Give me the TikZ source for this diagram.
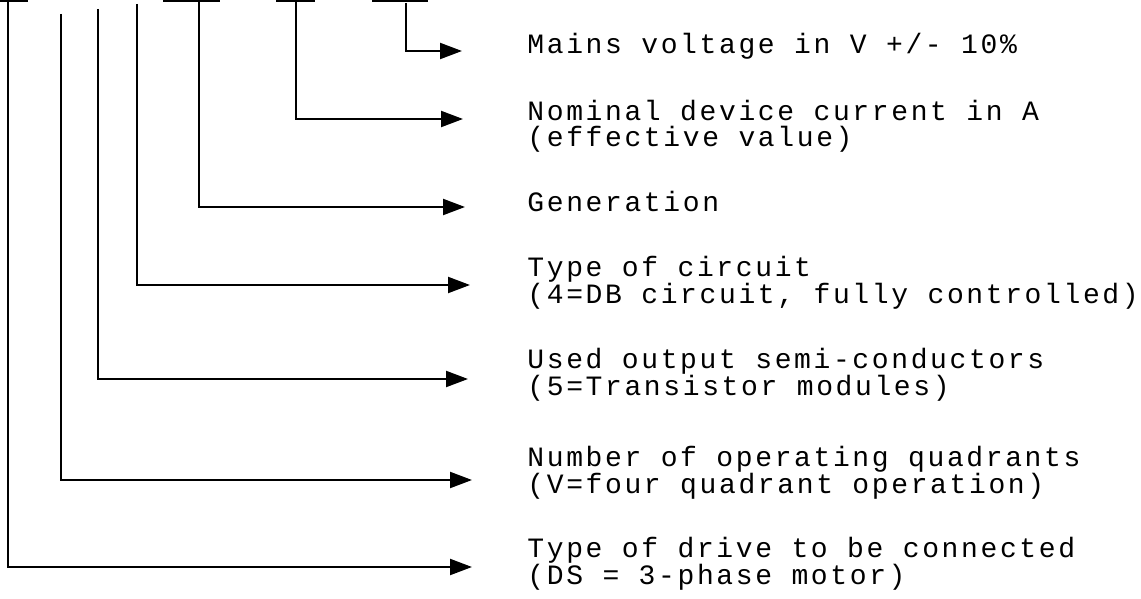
\documentclass[tikz,border=0pt]{standalone}
\usepackage{fontspec}
\newfontfamily\labelfont[LetterSpace=9.4]{Liberation Mono}
\usetikzlibrary{arrows.meta}
\begin{document}
\begin{tikzpicture}[x=0.5pt,y=-0.5pt,
  lead/.style={line width=1.1pt,line join=miter},
  tip/.style={lead,-{Triangle[length=11pt,width=8pt]}},
  lbl/.style={anchor=base west,inner sep=0pt,font=\labelfont\fontsize{14}{13}\selectfont},
  cut/.style={line width=1pt}]
\useasboundingbox (0,0) rectangle (1141,599);

% labels
\node[lbl] (m1) at (527,54)  {Mains voltage in V +/- 10\%};
\node[lbl] (n1) at (527,120) {Nominal device current in A};
\node[lbl] (n2) at (527,147) {(effective value)};
\node[lbl] (g1) at (527,212) {Generation};
\node[lbl] (c1) at (527,276) {Type of circuit};
\node[lbl] (c2) at (527,303) {(4=DB circuit, fully controlled)};
\node[lbl] (s1) at (527,368) {Used output semi-conductors};
\node[lbl] (s2) at (527,395) {(5=Transistor modules)};
\node[lbl] (q1) at (527,466) {Number of operating quadrants};
\node[lbl] (q2) at (527,493) {(V=four quadrant operation)};
\node[lbl] (d1) at (527,557) {Type of drive to be connected};
\node[lbl] (d2) at (527,584) {(DS = 3-phase motor)};

% cut-off underlines at the top edge
\coordinate (b1s) at (0,0.8);   \coordinate (b1e) at (28,0.8);
\coordinate (b2s) at (163,0.8); \coordinate (b2e) at (220,0.8);
\coordinate (b3s) at (276,0.8); \coordinate (b3e) at (315,0.8);
\coordinate (b4s) at (372,0.8); \coordinate (b4e) at (428,0.8);
\draw[cut] (b1s) -- (b1e);
\draw[cut] (b2s) -- (b2e);
\draw[cut] (b3s) -- (b3e);
\draw[cut] (b4s) -- (b4e);

% leader start points
\coordinate (a7) at (406,3);
\coordinate (a6) at (296,0);
\coordinate (a5) at (199,0);
\coordinate (a4) at (137,4);
\coordinate (a3) at (98,9);
\coordinate (a2) at (61,14);
\coordinate (a1) at (8,0);
% arrow ends
\coordinate (e7) at (462,51);
\coordinate (e6) at (463,119);
\coordinate (e5) at (465,207);
\coordinate (e4) at (470,285);
\coordinate (e3) at (468,379);
\coordinate (e2) at (472,480);
\coordinate (e1) at (472,567);

\draw[tip] (a7) |- (e7);
\draw[tip] (a6) |- (e6);
\draw[tip] (a5) |- (e5);
\draw[tip] (a4) |- (e4);
\draw[tip] (a3) |- (e3);
\draw[tip] (a2) |- (e2);
\draw[tip] (a1) |- (e1);
\end{tikzpicture}
\end{document}
